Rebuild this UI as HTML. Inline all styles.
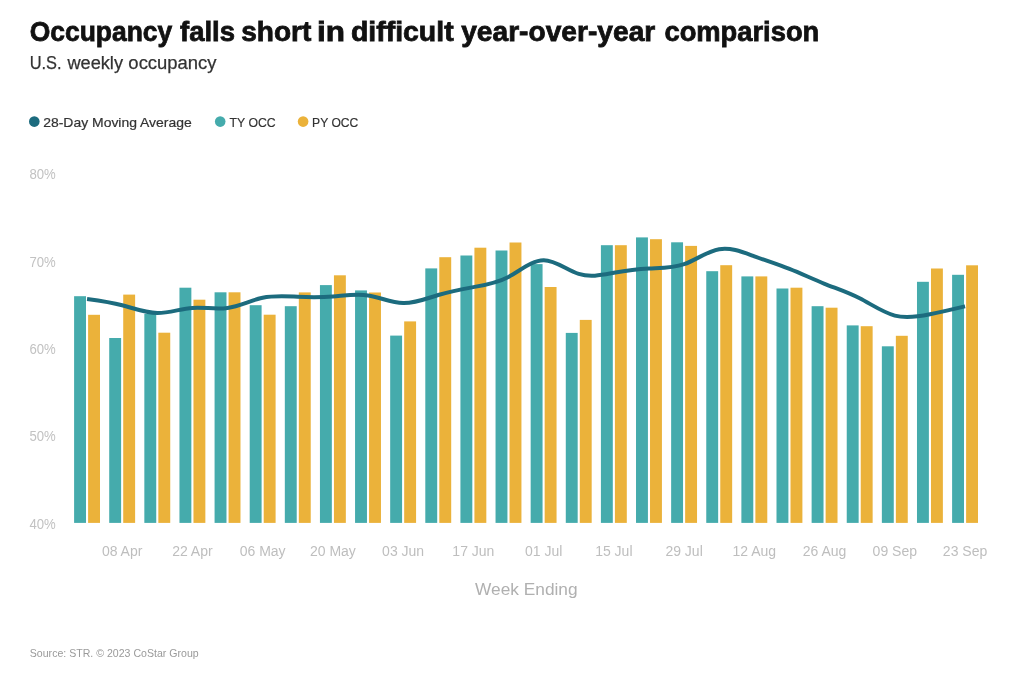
<!DOCTYPE html>
<html><head><meta charset="utf-8"><style>
html,body{margin:0;padding:0;background:#fff;}
body{width:1024px;height:678px;overflow:hidden;}
svg{display:block;filter:blur(0.5px);font-family:"Liberation Sans",Arial,sans-serif;}
</style></head><body>
<svg width="1024" height="678" viewBox="0 0 1024 678">
<rect width="1024" height="678" fill="#fff"/>
<g font-size="28.5" font-weight="bold" fill="#111" stroke="#111" stroke-width="0.8"><text x="29.69" y="41" textLength="142.6" lengthAdjust="spacingAndGlyphs">Occupancy</text><text x="180.02" y="41" textLength="54.99" lengthAdjust="spacingAndGlyphs">falls</text><text x="241.21" y="41" textLength="70.14" lengthAdjust="spacingAndGlyphs">short</text><text x="316.99" y="41" textLength="27.95" lengthAdjust="spacingAndGlyphs">in</text><text x="351.0" y="41" textLength="102.6" lengthAdjust="spacingAndGlyphs">difficult</text><text x="461.2" y="41" textLength="194.06" lengthAdjust="spacingAndGlyphs">year-over-year</text><text x="664.44" y="41" textLength="154.85" lengthAdjust="spacingAndGlyphs">comparison</text></g>
<g font-size="18" fill="#333" stroke="#333" stroke-width="0.25"><text x="29.7" y="69.4" textLength="31.83" lengthAdjust="spacingAndGlyphs">U.S.</text><text x="67.4" y="69.4" textLength="55.63" lengthAdjust="spacingAndGlyphs">weekly</text><text x="128.39" y="69.4" textLength="88.16" lengthAdjust="spacingAndGlyphs">occupancy</text></g>
<g font-size="13.5" fill="#333">
<circle cx="34.3" cy="121.6" r="5.3" fill="#1c6b7e"/>
<text x="43.2" y="126.6" stroke="#333" stroke-width="0.2" textLength="148.57" lengthAdjust="spacingAndGlyphs">28-Day Moving Average</text>
<circle cx="220.2" cy="121.6" r="5.3" fill="#45abac"/>
<text x="229.61" y="126.6" stroke="#333" stroke-width="0.2" textLength="46.09" lengthAdjust="spacingAndGlyphs">TY OCC</text>
<circle cx="303.1" cy="121.6" r="5.3" fill="#ebb23a"/>
<text x="312.11" y="126.6" stroke="#333" stroke-width="0.2" textLength="46.23" lengthAdjust="spacingAndGlyphs">PY OCC</text>
</g>
<g font-size="14" fill="#c2c2c2">
<text x="29.4" y="178.5" textLength="26.3" lengthAdjust="spacingAndGlyphs">80%</text><text x="29.4" y="266.6" textLength="26.3" lengthAdjust="spacingAndGlyphs">70%</text><text x="29.4" y="353.9" textLength="26.3" lengthAdjust="spacingAndGlyphs">60%</text><text x="29.4" y="441.3" textLength="26.3" lengthAdjust="spacingAndGlyphs">50%</text><text x="29.4" y="528.7" textLength="26.3" lengthAdjust="spacingAndGlyphs">40%</text>
</g>
<g>
<rect x="74.10" y="296.20" width="11.9" height="226.70" fill="#45abac"/><rect x="88.10" y="314.80" width="11.9" height="208.10" fill="#ebb23a"/><rect x="109.22" y="338.00" width="11.9" height="184.90" fill="#45abac"/><rect x="123.22" y="294.60" width="11.9" height="228.30" fill="#ebb23a"/><rect x="144.34" y="314.00" width="11.9" height="208.90" fill="#45abac"/><rect x="158.34" y="332.70" width="11.9" height="190.20" fill="#ebb23a"/><rect x="179.46" y="287.70" width="11.9" height="235.20" fill="#45abac"/><rect x="193.46" y="299.70" width="11.9" height="223.20" fill="#ebb23a"/><rect x="214.58" y="292.30" width="11.9" height="230.60" fill="#45abac"/><rect x="228.58" y="292.30" width="11.9" height="230.60" fill="#ebb23a"/><rect x="249.70" y="305.20" width="11.9" height="217.70" fill="#45abac"/><rect x="263.70" y="314.70" width="11.9" height="208.20" fill="#ebb23a"/><rect x="284.82" y="306.20" width="11.9" height="216.70" fill="#45abac"/><rect x="298.82" y="292.40" width="11.9" height="230.50" fill="#ebb23a"/><rect x="319.94" y="285.10" width="11.9" height="237.80" fill="#45abac"/><rect x="333.94" y="275.30" width="11.9" height="247.60" fill="#ebb23a"/><rect x="355.06" y="290.40" width="11.9" height="232.50" fill="#45abac"/><rect x="369.06" y="292.50" width="11.9" height="230.40" fill="#ebb23a"/><rect x="390.18" y="335.60" width="11.9" height="187.30" fill="#45abac"/><rect x="404.18" y="321.40" width="11.9" height="201.50" fill="#ebb23a"/><rect x="425.30" y="268.40" width="11.9" height="254.50" fill="#45abac"/><rect x="439.30" y="257.20" width="11.9" height="265.70" fill="#ebb23a"/><rect x="460.42" y="255.50" width="11.9" height="267.40" fill="#45abac"/><rect x="474.42" y="247.70" width="11.9" height="275.20" fill="#ebb23a"/><rect x="495.54" y="250.50" width="11.9" height="272.40" fill="#45abac"/><rect x="509.54" y="242.50" width="11.9" height="280.40" fill="#ebb23a"/><rect x="530.66" y="264.10" width="11.9" height="258.80" fill="#45abac"/><rect x="544.66" y="287.00" width="11.9" height="235.90" fill="#ebb23a"/><rect x="565.78" y="332.90" width="11.9" height="190.00" fill="#45abac"/><rect x="579.78" y="319.90" width="11.9" height="203.00" fill="#ebb23a"/><rect x="600.90" y="245.20" width="11.9" height="277.70" fill="#45abac"/><rect x="614.90" y="245.20" width="11.9" height="277.70" fill="#ebb23a"/><rect x="636.02" y="237.40" width="11.9" height="285.50" fill="#45abac"/><rect x="650.02" y="239.20" width="11.9" height="283.70" fill="#ebb23a"/><rect x="671.14" y="242.30" width="11.9" height="280.60" fill="#45abac"/><rect x="685.14" y="245.90" width="11.9" height="277.00" fill="#ebb23a"/><rect x="706.26" y="271.20" width="11.9" height="251.70" fill="#45abac"/><rect x="720.26" y="265.20" width="11.9" height="257.70" fill="#ebb23a"/><rect x="741.38" y="276.40" width="11.9" height="246.50" fill="#45abac"/><rect x="755.38" y="276.40" width="11.9" height="246.50" fill="#ebb23a"/><rect x="776.50" y="288.50" width="11.9" height="234.40" fill="#45abac"/><rect x="790.50" y="287.70" width="11.9" height="235.20" fill="#ebb23a"/><rect x="811.62" y="306.20" width="11.9" height="216.70" fill="#45abac"/><rect x="825.62" y="307.70" width="11.9" height="215.20" fill="#ebb23a"/><rect x="846.74" y="325.40" width="11.9" height="197.50" fill="#45abac"/><rect x="860.74" y="326.20" width="11.9" height="196.70" fill="#ebb23a"/><rect x="881.86" y="346.30" width="11.9" height="176.60" fill="#45abac"/><rect x="895.86" y="335.80" width="11.9" height="187.10" fill="#ebb23a"/><rect x="916.98" y="281.80" width="11.9" height="241.10" fill="#45abac"/><rect x="930.98" y="268.50" width="11.9" height="254.40" fill="#ebb23a"/><rect x="952.10" y="274.80" width="11.9" height="248.10" fill="#45abac"/><rect x="966.10" y="265.30" width="11.9" height="257.60" fill="#ebb23a"/>
</g>
<path d="M87.05,299.10C98.76,300.67 110.46,302.24 122.17,305.30C133.88,308.36 145.58,312.89 157.29,313.00C169.00,313.11 180.70,308.78 192.41,307.90C204.12,307.02 215.82,309.58 227.53,307.90C239.24,306.22 250.94,300.29 262.65,297.80C274.36,295.31 286.06,296.27 297.77,296.80C309.48,297.33 321.18,297.43 332.89,296.50C344.60,295.57 356.30,293.60 368.01,295.40C379.72,297.20 391.42,302.76 403.13,303.10C414.84,303.44 426.54,298.56 438.25,295.00C449.96,291.44 461.66,289.19 473.37,287.10C485.08,285.01 496.78,283.07 508.49,276.90C520.20,270.73 531.90,260.34 543.61,260.20C555.32,260.06 567.02,270.18 578.73,273.90C590.44,277.62 602.14,274.94 613.85,272.80C625.56,270.66 637.26,269.07 648.97,268.50C660.68,267.93 672.38,268.38 684.09,264.20C695.80,260.02 707.50,251.20 719.21,249.20C730.92,247.20 742.62,252.04 754.33,256.30C766.04,260.56 777.74,264.26 789.45,268.90C801.16,273.54 812.86,279.11 824.57,283.80C836.28,288.49 847.98,292.30 859.69,298.30C871.40,304.30 883.10,312.50 894.81,315.60C906.52,318.70 918.22,316.70 929.93,314.30C941.64,311.90 953.34,309.10 965.05,306.30" fill="none" stroke="#1c6b7e" stroke-width="4" stroke-linejoin="round"/>
<g font-size="14" fill="#bebebe">
<text x="122.17" y="556.4" text-anchor="middle">08 Apr</text><text x="192.41" y="556.4" text-anchor="middle">22 Apr</text><text x="262.65" y="556.4" text-anchor="middle">06 May</text><text x="332.89" y="556.4" text-anchor="middle">20 May</text><text x="403.13" y="556.4" text-anchor="middle">03 Jun</text><text x="473.37" y="556.4" text-anchor="middle">17 Jun</text><text x="543.61" y="556.4" text-anchor="middle">01 Jul</text><text x="613.85" y="556.4" text-anchor="middle">15 Jul</text><text x="684.09" y="556.4" text-anchor="middle">29 Jul</text><text x="754.33" y="556.4" text-anchor="middle">12 Aug</text><text x="824.57" y="556.4" text-anchor="middle">26 Aug</text><text x="894.81" y="556.4" text-anchor="middle">09 Sep</text><text x="965.05" y="556.4" text-anchor="middle">23 Sep</text>
</g>
<text x="526.3" y="594.6" font-size="17" fill="#b0b0b0" text-anchor="middle" textLength="102.6" lengthAdjust="spacingAndGlyphs">Week Ending</text>
<text x="29.8" y="657.2" font-size="11" fill="#9a9a9a" textLength="168.9" lengthAdjust="spacingAndGlyphs">Source: STR. © 2023 CoStar Group</text>
</svg>
</body></html>
